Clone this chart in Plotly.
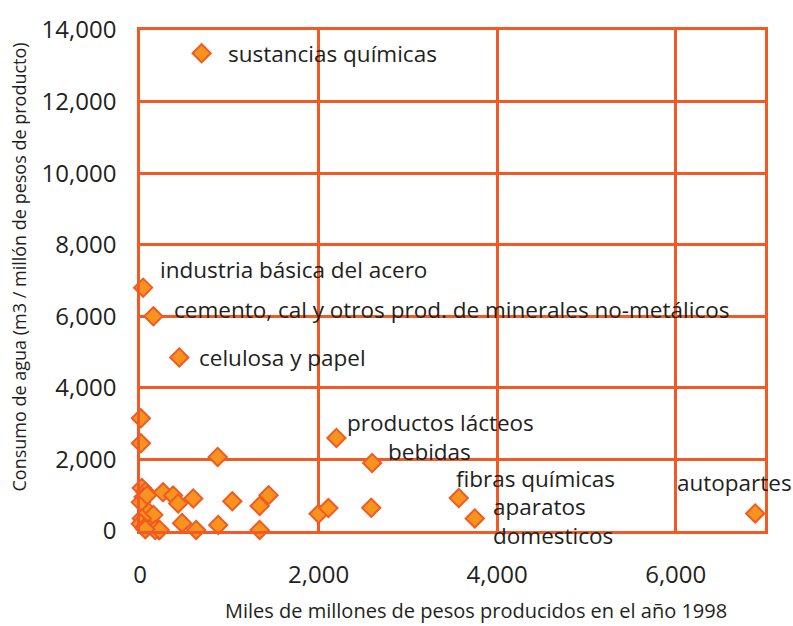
import plotly.graph_objects as go

# Water use per industrial branch vs. production value (Mexico, 1998)
production = [690, 35, 150, 440, 10, 10, 2200, 2600, 3570, 3750, 6890, 870,
              2000, 2110, 2590, 1440, 1340, 1340, 258, 370, 427, 596, 1034,
              472, 629, 876, 213, 20, 60, 40, 10, 80, 100, 150, 20, 10, 50,
              170, 220, 60]
water_use = [13350, 6800, 6000, 4850, 3150, 2450, 2600, 1900, 920, 350, 490, 2070,
             480, 640, 650, 1000, 700, 30, 1080, 990, 770, 910, 830,
             220, 30, 170, 30, 1200, 1100, 950, 800, 1000, 520, 450, 350, 200, 100,
             30, 30, 50]

# Labelled branches: index into the arrays, text, and label offset in pixels
labels = [
    (0, "sustancias químicas", 24, 0, "left"),
    (1, "industria básica del acero", 15, 18, "left"),
    (2, "cemento, cal y otros prod. de minerales no-metálicos", 19, 7, "left"),
    (3, "celulosa y papel", 18, 0, "left"),
    (6, "productos lácteos", 9, 15, "left"),
    (7, "bebidas", 14, 12, "left"),
    (8, "fibras químicas", -5, 20, "left"),
    (9, "aparatos<br>domesticos", 16, -3, "left"),
    (10, "autopartes", 39, 31, "right"),
]

x_ticks = [0, 2000, 4000, 6000]
y_ticks = [0, 2000, 4000, 6000, 8000, 10000, 12000, 14000]

LINE = "#F15A24"
FILL = "#F7941D"
TEXT = "#231F20"
FONT = "Open Sans"

fig = go.Figure()
fig.add_trace(go.Scatter(
    x=production, y=water_use, mode="markers", cliponaxis=False,
    marker=dict(symbol="diamond", size=14, color=FILL,
                line=dict(color=LINE, width=2)),
    hoverinfo="x+y", showlegend=False,
))

annotations = []
for idx, text, dx, dy, anchor in labels:
    annotations.append(dict(
        x=production[idx], y=water_use[idx], xref="x", yref="y",
        text=text, showarrow=False, xanchor=anchor, yanchor="middle",
        xshift=dx, yshift=dy, align="left",
        font=dict(family=FONT, size=22.5, color=TEXT),
    ))

annotations.append(dict(
    text="Consumo de agua (m3 / millón de pesos de producto)",
    xref="paper", yref="paper", x=0, y=0.5, xshift=-122, yshift=13,
    textangle=-90, showarrow=False, xanchor="center", yanchor="middle",
    font=dict(family=FONT, size=18, color=TEXT),
))
annotations.append(dict(
    text="Miles de millones de pesos producidos en el año 1998",
    xref="paper", yref="paper", x=0.5, y=0, xshift=23, yshift=-79,
    showarrow=False, xanchor="center", yanchor="middle",
    font=dict(family=FONT, size=20, color=TEXT),
))

fig.update_layout(
    width=793, height=626,
    margin=dict(l=140, r=28, t=24, b=95),
    paper_bgcolor="white", plot_bgcolor="white",
    annotations=annotations,
    font=dict(family=FONT, color=TEXT),
)
fig.update_xaxes(
    range=[0, 7000], tickvals=x_ticks, ticktext=[f"{v:,}" for v in x_ticks],
    showgrid=True, gridcolor=LINE, gridwidth=2.5,
    showline=True, linecolor=LINE, linewidth=2.5, mirror=True,
    zeroline=False, ticks="", ticklabelstandoff=20,
    tickfont=dict(family=FONT, size=24, color=TEXT),
)
fig.update_yaxes(
    range=[0, 14000], tickvals=y_ticks, ticktext=[f"{v:,}" for v in y_ticks],
    showgrid=True, gridcolor=LINE, gridwidth=2.5,
    showline=True, linecolor=LINE, linewidth=2.5, mirror=True,
    zeroline=False, ticks="", ticklabelstandoff=16,
    tickfont=dict(family=FONT, size=24, color=TEXT),
)

fig.write_html("out.html")
